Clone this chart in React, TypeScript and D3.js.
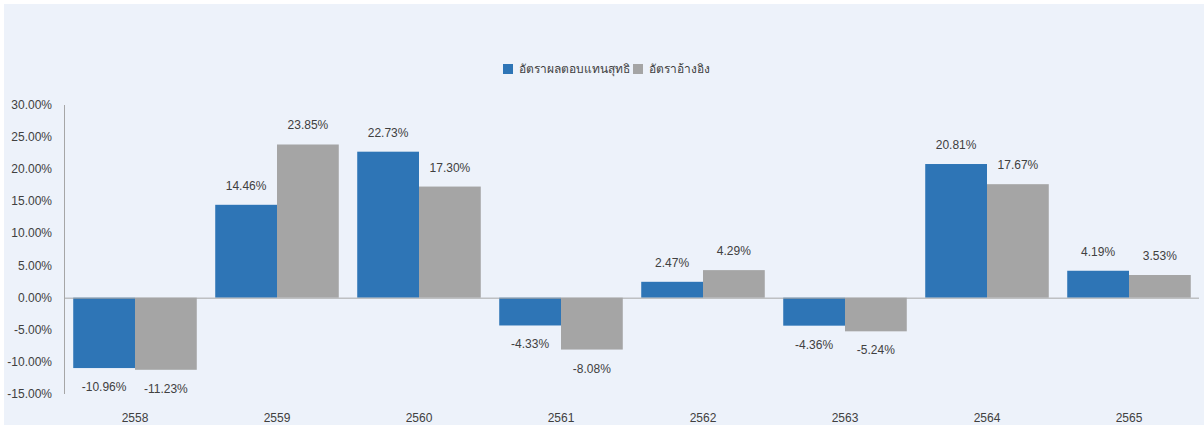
import React, { useEffect } from "react";
import * as d3 from "d3";

const years = ["2558", "2559", "2560", "2561", "2562", "2563", "2564", "2565"];
const netReturn = [-10.96, 14.46, 22.73, -4.33, 2.47, -4.36, 20.81, 4.19];
const benchmark = [-11.23, 23.85, 17.3, -8.08, 4.29, -5.24, 17.67, 3.53];
const seriesNames = ["อัตราผลตอบแทนสุทธิ", "อัตราอ้างอิง"];
const colors = ["#2E75B6", "#A5A5A5"];
const yTicks = [30, 25, 20, 15, 10, 5, 0, -5, -10, -15];

const W = 1204;
const H = 425;
const font = "'Liberation Sans', 'Noto Sans', sans-serif";

export default function App() {
  useEffect(() => {
    document.body.style.margin = "0";
  }, []);

  const x = d3.scaleBand().domain(years).range([64, 1200]).paddingInner(0.13).paddingOuter(0.065);
  const x1 = d3.scaleBand().domain(["0", "1"]).range([0, x.bandwidth()]);
  const y = d3.scaleLinear().domain([-15, 30]).range([394, 105]);

  const fmt = (v: number) => v.toFixed(2) + "%";

  return (
    <svg width={W} height={H} style={{ display: "block" }}>
      <rect x={0} y={0} width={W} height={H} fill="#ffffff" />
      <rect x={4} y={4} width={W - 4} height={H - 4} fill="#EDF2FA" />

      {/* legend */}
      <g fontFamily={font} fontSize={12} fill="#404040">
        <rect x={503} y={64} width={10} height={10} fill={colors[0]} />
        <text x={519} y={73}>{seriesNames[0]}</text>
        <rect x={633} y={64} width={10} height={10} fill={colors[1]} />
        <text x={649} y={73}>{seriesNames[1]}</text>
      </g>

      {/* y axis */}
      <line x1={64.5} x2={64.5} y1={y(30)} y2={y(-15)} stroke="#A6A6A6" />
      <g fontFamily={font} fontSize={12} fill="#404040" textAnchor="end">
        {yTicks.map((t) => (
          <text key={t} x={52} y={y(t) + 4}>
            {t.toFixed(2) + "%"}
          </text>
        ))}
      </g>

      {/* bars */}
      {years.map((yr, i) =>
        [netReturn[i], benchmark[i]].map((v, s) => {
          const bx = x(yr)! + x1(String(s))!;
          return (
            <g key={yr + s}>
              <rect
                x={bx}
                y={y(Math.max(0, v))}
                width={x1.bandwidth()}
                height={Math.abs(y(v) - y(0))}
                fill={colors[s]}
              />
              <text
                x={bx + x1.bandwidth() / 2}
                y={v >= 0 ? y(v) - 15 : y(v) + 23}
                textAnchor="middle"
                fontFamily={font}
                fontSize={12}
                fill="#404040"
              >
                {fmt(v)}
              </text>
            </g>
          );
        })
      )}

      {/* zero line */}
      <line x1={64} x2={1199} y1={y(0) + 0.5} y2={y(0) + 0.5} stroke="#A6A6A6" />

      {/* x labels */}
      <g fontFamily={font} fontSize={12} fill="#404040" textAnchor="middle">
        {years.map((yr) => (
          <text key={yr} x={x(yr)! + x.bandwidth() / 2} y={422}>
            {yr}
          </text>
        ))}
      </g>
    </svg>
  );
}
